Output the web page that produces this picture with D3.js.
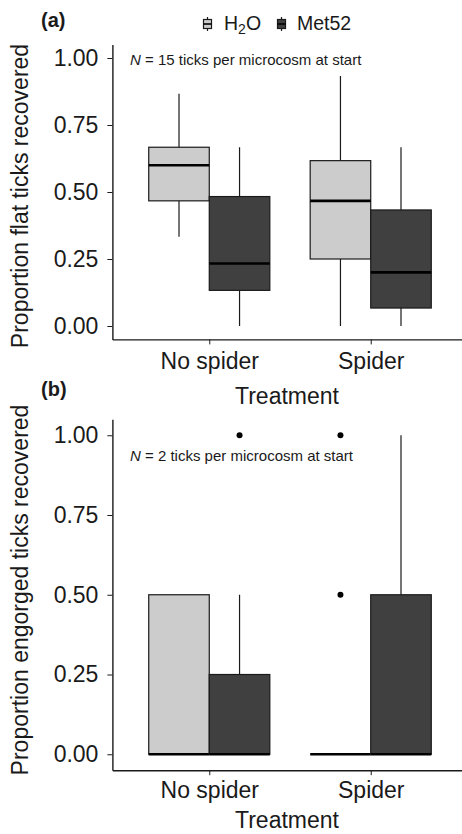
<!DOCTYPE html>
<html lang="en">
<head>
<meta charset="utf-8">
<title>Ticks recovered</title>
<script src="https://cdn.jsdelivr.net/npm/d3@7"></script>
<style>
  body { margin: 0; background: #fff; }
  svg text { font-family: "Liberation Sans", Arial, Helvetica, sans-serif; fill: #1a1a1a; }
  .axis path, .axis line { stroke: #1a1a1a; }
</style>
</head>
<body>
<script>
// ---- data ----
var treatments = ["No spider", "Spider"];
var groups = ["H2O", "Met52"];
var yTicks = [0, 0.25, 0.5, 0.75, 1];

// panel (a): flat ticks, one entry per treatment
var flatH2O = [
  { lo: 0.333, q1: 0.467, med: 0.600, q3: 0.667, hi: 0.867, out: [] },
  { lo: 0.000, q1: 0.250, med: 0.467, q3: 0.617, hi: 0.933, out: [] }
];
var flatMet52 = [
  { lo: 0.000, q1: 0.133, med: 0.233, q3: 0.483, hi: 0.667, out: [] },
  { lo: 0.000, q1: 0.067, med: 0.200, q3: 0.433, hi: 0.667, out: [] }
];

// panel (b): engorged ticks
var engH2O = [
  { lo: 0, q1: 0, med: 0, q3: 0.5, hi: 0.5, out: [] },
  { lo: 0, q1: 0, med: 0, q3: 0,   hi: 0,   out: [0.5, 1] }
];
var engMet52 = [
  { lo: 0, q1: 0, med: 0, q3: 0.25, hi: 0.5, out: [1] },
  { lo: 0, q1: 0, med: 0, q3: 0.5,  hi: 1,   out: [] }
];

var fills = { H2O: "#cccccc", Met52: "#404040" };

var width = 462, height = 834;
var svg = d3.select("body").append("svg")
    .attr("width", width).attr("height", height);

// shared x scale (ggplot style discrete expansion of 0.6)
var x = d3.scalePoint().domain(treatments).range([112.4, 467.6]).padding(0.6);
var step = x.step();
var boxW = step * 0.375;

function drawPanel(cfg) {
  var y = d3.scaleLinear().domain([-0.05, 1.05]).range([cfg.bottom, cfg.top]);
  var g = svg.append("g");

  // boxes
  groups.forEach(function(grp, gi) {
    var stats = cfg.series[gi];
    var off = (gi === 0 ? -1 : 1) * boxW / 2;
    treatments.forEach(function(t, ti) {
      var s = stats[ti];
      var cx = x(t) + off;
      // whiskers
      g.append("line").attr("x1", cx).attr("x2", cx)
        .attr("y1", y(s.q3)).attr("y2", y(s.hi))
        .attr("stroke", "#1a1a1a").attr("stroke-width", 1.2);
      g.append("line").attr("x1", cx).attr("x2", cx)
        .attr("y1", y(s.q1)).attr("y2", y(s.lo))
        .attr("stroke", "#1a1a1a").attr("stroke-width", 1.2);
      // box
      g.append("rect")
        .attr("x", cx - boxW / 2).attr("width", boxW)
        .attr("y", y(s.q3)).attr("height", Math.max(0, y(s.q1) - y(s.q3)))
        .attr("fill", fills[grp]).attr("stroke", "#1a1a1a").attr("stroke-width", 1.2);
      // median
      g.append("line")
        .attr("x1", cx - boxW / 2).attr("x2", cx + boxW / 2)
        .attr("y1", y(s.med)).attr("y2", y(s.med))
        .attr("stroke", "#000").attr("stroke-width", 2.6);
      // outliers
      s.out.forEach(function(v) {
        g.append("circle").attr("cx", cx).attr("cy", y(v)).attr("r", 3)
          .attr("fill", "#000");
      });
    });
  });

  // axes
  var ya = g.append("g").attr("class", "axis")
    .attr("transform", "translate(" + x.range()[0] + ",0)")
    .call(d3.axisLeft(y).tickValues(yTicks).tickFormat(d3.format(".2f"))
      .tickSize(5).tickSizeOuter(0).tickPadding(9));
  ya.select(".domain").attr("stroke-width", 1.4);
  ya.selectAll("text").style("font-size", "23px");

  var xa = g.append("g").attr("class", "axis")
    .attr("transform", "translate(0," + cfg.bottom + ")")
    .call(d3.axisBottom(x).tickSize(5).tickSizeOuter(0).tickPadding(cfg.xPad));
  xa.select(".domain").attr("stroke-width", 1.4);
  xa.selectAll("text").style("font-size", "23px");

  // titles
  g.append("text").attr("x", 287).attr("y", cfg.xTitleY)
    .attr("text-anchor", "middle").style("font-size", "23px").text("Treatment");
  g.append("text")
    .attr("transform", "translate(28," + cfg.yTitleMid + ") rotate(-90)")
    .attr("text-anchor", "middle").style("font-size", "23px").text(cfg.yTitle);
  g.append("text").attr("x", 41).attr("y", cfg.tagY)
    .style("font-size", "20px").style("font-weight", "bold").text(cfg.tag);

  var note = g.append("text").attr("x", 130).attr("y", cfg.noteY).style("font-size", "15px");
  note.append("tspan").style("font-style", "italic").text("N");
  note.append("tspan").text(" = " + cfg.n + " ticks per microcosm at start");
}

drawPanel({
  series: [flatH2O, flatMet52], top: 44.6, bottom: 339.4, xPad: 8,
  xTitleY: 404, yTitleMid: 196, yTitle: "Proportion flat ticks recovered",
  tag: "(a)", tagY: 27, noteY: 65, n: 15
});
drawPanel({
  series: [engH2O, engMet52], top: 419.3, bottom: 770.2, xPad: 6,
  xTitleY: 828, yTitleMid: 590, yTitle: "Proportion engorged ticks recovered",
  tag: "(b)", tagY: 396, noteY: 461, n: 2
});

// legend
var legendX = [203, 277];
var leg = svg.append("g");
groups.forEach(function(grp, i) {
  var k = leg.append("g").attr("transform", "translate(" + legendX[i] + ",0)");
  k.append("line").attr("x1", 4.5).attr("x2", 4.5).attr("y1", 17).attr("y2", 31)
    .attr("stroke", "#1a1a1a").attr("stroke-width", 1.2);
  k.append("rect").attr("x", 0.5).attr("y", 19.5).attr("width", 8).attr("height", 9)
    .attr("fill", fills[grp]).attr("stroke", "#1a1a1a").attr("stroke-width", 1.2);
  k.append("line").attr("x1", 0.5).attr("x2", 8.5).attr("y1", 24).attr("y2", 24)
    .attr("stroke", "#000").attr("stroke-width", 1.6);
});
var t1 = leg.append("text").attr("x", 224).attr("y", 30).style("font-size", "19.5px");
t1.append("tspan").text("H");
t1.append("tspan").attr("dy", 4).style("font-size", "14px").text("2");
t1.append("tspan").attr("dy", -4).text("O");
leg.append("text").attr("x", 297).attr("y", 30).style("font-size", "19.5px").text("Met52");
</script>
</body>
</html>
